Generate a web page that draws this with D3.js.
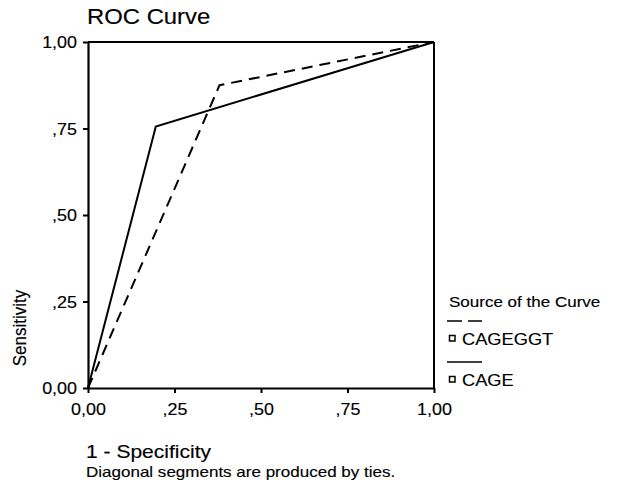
<!DOCTYPE html>
<html>
<head>
<meta charset="utf-8">
<script src="https://cdn.jsdelivr.net/npm/d3@7"></script>
<style>
  html, body { margin: 0; padding: 0; background: #fff; }
  svg { display: block; font-family: "Liberation Sans", Arial, Helvetica, sans-serif; }
</style>
</head>
<body>
<svg id="chart" width="617" height="494"></svg>
<script>
// ---- data ----
const tickValues = [0, 0.25, 0.5, 0.75, 1];
const tickLabels = ["0,00", ",25", ",50", ",75", "1,00"];
const seriesNames = ["CAGEGGT", "CAGE"];
const cageggtX = [0, 0.38, 1];
const cageggtY = [0, 0.875, 1];
const cageX = [0, 0.196, 1];
const cageY = [0, 0.756, 1];

// ---- layout ----
const SX = 1.12; // horizontal stretch of the reference's text
const ink = "#000";
const svg = d3.select("#chart");
const x = d3.scaleLinear().domain([0, 1]).range([88, 434]);
const y = d3.scaleLinear().domain([0, 1]).range([388, 42]);

function htext(px, py, str, size, anchor) {
  return svg.append("text")
    .attr("transform", `translate(${px},${py}) scale(${SX},1)`)
    .attr("text-anchor", anchor || "start")
    .attr("font-size", size)
    .attr("fill", ink)
    .attr("stroke", ink).attr("stroke-width", 0.15)
    .text(str);
}

// title
htext(87, 24, "ROC Curve", 21.3);

// frame (top & right)
svg.append("line").attr("x1", x(0)).attr("x2", x(1)).attr("y1", y(1)).attr("y2", y(1))
  .attr("stroke", "#000").attr("stroke-width", 2);
svg.append("line").attr("x1", x(1)).attr("x2", x(1)).attr("y1", y(1)).attr("y2", y(0))
  .attr("stroke", "#000").attr("stroke-width", 2);

const fmt = v => tickLabels[tickValues.indexOf(v)];

// bottom axis
const gx = svg.append("g").attr("transform", `translate(0,${y(0)})`)
  .call(d3.axisBottom(x).tickValues(tickValues).tickFormat(fmt).tickSize(5).tickSizeOuter(0));
gx.select(".domain").attr("stroke", "#000").attr("stroke-width", 2.2);
gx.selectAll(".tick line").attr("stroke", "#000").attr("stroke-width", 2);
gx.selectAll(".tick text")
  .attr("y", 27).attr("dy", 0)
  .attr("transform", `scale(${SX},1)`)
  .attr("font-size", 16).attr("font-family", null).attr("fill", ink)
  .attr("stroke", ink).attr("stroke-width", 0.15);

// left axis
const gy = svg.append("g").attr("transform", `translate(${x(0)},0)`)
  .call(d3.axisLeft(y).tickValues(tickValues).tickFormat(fmt).tickSize(5).tickSizeOuter(0));
gy.select(".domain").attr("stroke", "#000").attr("stroke-width", 2.2);
gy.selectAll(".tick line").attr("stroke", "#000").attr("stroke-width", 2);
gy.selectAll(".tick text")
  .attr("x", -11 / SX).attr("dy", 0).attr("y", 5.7)
  .attr("transform", `scale(${SX},1)`)
  .attr("font-size", 16).attr("font-family", null).attr("fill", ink)
  .attr("stroke", ink).attr("stroke-width", 0.15);

// axis titles
htext(86, 458, "1 - Specificity", 18.8);
htext(86, 477, "Diagonal segments are produced by ties.", 15.2);
svg.append("text")
  .attr("transform", `translate(25.5,328) scale(${SX},1) rotate(-90)`)
  .attr("text-anchor", "middle")
  .attr("font-size", 17)
  .attr("fill", ink)
  .attr("stroke", ink).attr("stroke-width", 0.15)
  .text("Sensitivity");

// curves
const line = d3.line().x(d => x(d[0])).y(d => y(d[1]));
const cageggt = cageggtX.map((v, i) => [v, cageggtY[i]]);
const cage = cageX.map((v, i) => [v, cageY[i]]);
svg.append("path").datum(cageggt).attr("d", line)
  .attr("fill", "none").attr("stroke", "#000").attr("stroke-width", 2)
  .attr("stroke-dasharray", "11,7");
svg.append("path").datum(cage).attr("d", line)
  .attr("fill", "none").attr("stroke", "#000").attr("stroke-width", 2);

// legend
htext(449, 307, "Source of the Curve", 15.2);
const legY = [321, 362];
const dashes = ["15,6", null];
seriesNames.forEach((name, i) => {
  const ly = legY[i];
  svg.append("line").attr("x1", 447).attr("x2", 482).attr("y1", ly).attr("y2", ly)
    .attr("stroke", "#000").attr("stroke-width", 1.6)
    .attr("stroke-dasharray", dashes[i]);
  svg.append("rect").attr("x", 449.5).attr("y", ly + 14.5).attr("width", 5.5).attr("height", 5.5)
    .attr("fill", "#fff").attr("stroke", "#000").attr("stroke-width", 1.5);
  htext(462, ly + 24, name, 16.3);
});
</script>
</body>
</html>
